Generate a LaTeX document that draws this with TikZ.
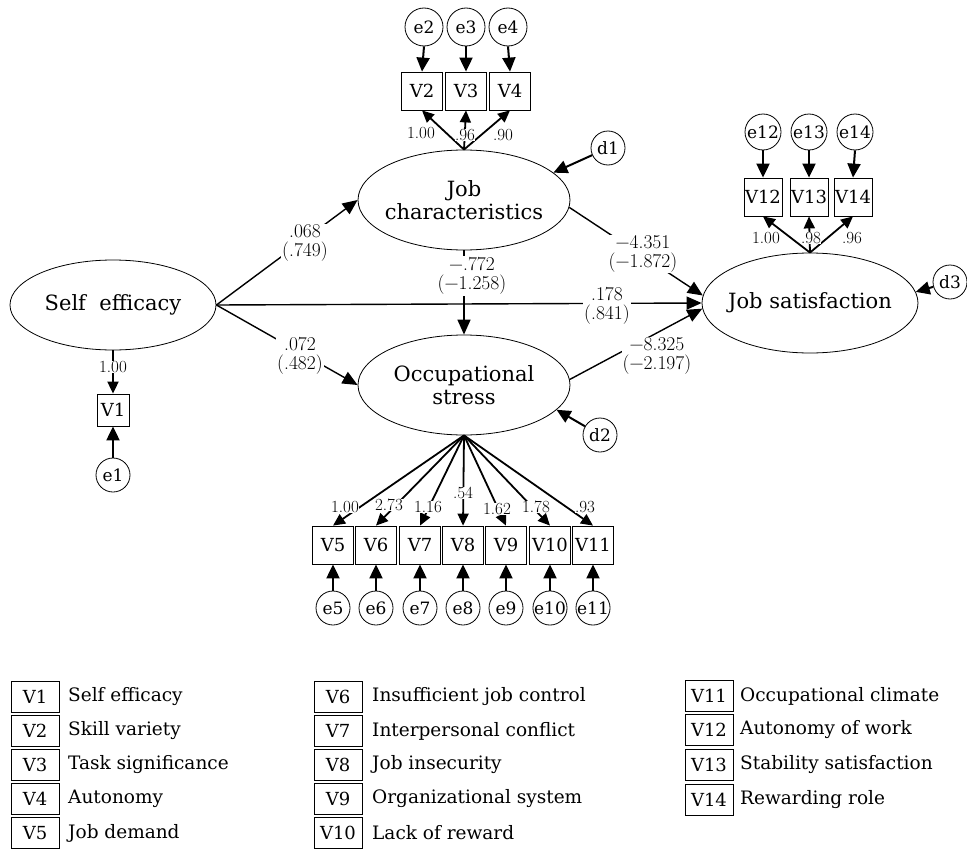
\documentclass[tikz,border=0pt]{standalone}
\usepackage{fontspec}
\newfontfamily\dvs{DejaVu Serif}
\usetikzlibrary{shapes.geometric,arrows.meta}
\begin{document}
\begin{tikzpicture}[x=1pt,y=-1pt,
  lat/.style={ellipse,draw,line width=0.8pt,minimum width=212pt,minimum height=100pt,inner sep=0pt},
  lattxt/.style={align=center,inner sep=0pt,font=\dvs\fontsize{21}{23}\selectfont},
  obs/.style={rectangle,draw,line width=0.8pt,minimum width=41pt,minimum height=38pt,inner sep=0pt,font=\dvs\fontsize{18}{20}\selectfont},
  err/.style={circle,draw,line width=0.8pt,minimum size=34pt,inner sep=0pt,font=\dvs\fontsize{17}{18}\selectfont},
  strarrow/.style={line width=1.4pt,-{Triangle[length=15pt,width=13pt]}},
  loadarrow/.style={line width=1.8pt,-{Triangle[length=12pt,width=11pt]}},
  errarrow/.style={line width=2pt,-{Triangle[length=14pt,width=13pt]}},
  coef/.style={fill=white,inner sep=1pt,align=center,font=\fontsize{19.5}{19}\selectfont},
  ld/.style={fill=white,inner sep=0.5pt,font=\fontsize{17}{17}\selectfont},
  legbox/.style={rectangle,draw,line width=0.8pt,minimum width=48pt,minimum height=31pt,inner sep=0pt,font=\dvs\fontsize{18}{20}\selectfont},
  legtxt/.style={anchor=west,inner sep=0pt,font=\dvs\fontsize{18.5}{20}\selectfont}]
\useasboundingbox (0,0) rectangle (967,862);

% latent variables
\node[lat,minimum width=206pt,minimum height=90pt,label={[lattxt]center:Self\ \ efficacy}] (se) at (113,305) {};
\node[lat,label={[lattxt]center:Job\\characteristics}] (jc) at (464,200) {};
\node[lat,label={[lattxt]center:Occupational\\stress}] (os) at (464,385) {};
\node[lat,minimum width=216pt,label={[lattxt]center:Job satisfaction}] (js) at (810,303) {};

% disturbances
\node[err] (d1) at (608,148) {d1};
\node[err] (d2) at (600,435) {d2};
\node[err] (d3) at (950,282) {d3};

% V1
\node[obs,minimum width=32pt,minimum height=32pt] (v1) at (113,410) {V1};
\node[err] (e1) at (113,475) {e1};

% top indicators
\node[obs] (v2) at (422,91) {V2};
\node[obs] (v3) at (466,91) {V3};
\node[obs] (v4) at (510,91) {V4};
\node[err,minimum size=38pt] (e2) at (424,27) {e2};
\node[err,minimum size=38pt] (e3) at (466,27) {e3};
\node[err,minimum size=38pt] (e4) at (508,27) {e4};

% right indicators
\node[obs,minimum width=38pt] (v12) at (763,197) {V12};
\node[obs,minimum width=38pt] (v13) at (809,197) {V13};
\node[obs,minimum width=38pt] (v14) at (853,197) {V14};
\node[err,minimum size=36pt] (e12) at (763,132) {e12};
\node[err,minimum size=36pt] (e13) at (809,132) {e13};
\node[err,minimum size=36pt] (e14) at (855,132) {e14};

% bottom indicators
\foreach \n/\x in {5/333,6/376,7/420,8/463,9/506,10/550,11/593}{
  \node[obs] (v\n) at (\x,545) {V\n};
  \node[err] (e\n) at (\x,608) {e\n};
}

% structural paths
\draw[strarrow] (se.east) -- (jc.west);
\draw[strarrow] (se.east) -- (os.west);
\draw[strarrow] (se.east) -- (js.west);
\draw[strarrow] (jc.south) -- (os.north);
\draw[strarrow] (jc.-4) -- (js.176);
\draw[strarrow] (os.3) -- (js.183);

\node[coef] (c1) at (305,243) {.068\\(.749)};
\node[coef] (c2) at (300,356) {.072\\(.482)};
\node[coef] (c3) at (472,276) {−.772\\(−1.258)};
\node[coef] (c4) at (607,306) {.178\\(.841)};
\node[coef] (c5) at (643,254) {−4.351\\(−1.872)};
\node[coef] (c6) at (657,356) {−8.325\\(−2.197)};

% disturbance arrows
\draw[errarrow] (d1) -- (jc.17);
\draw[errarrow] (d2) -- (os.-15);
\draw[errarrow] (d3) -- (js.6);

% V1
\draw[loadarrow] (se.south) -- (v1.north);
\node[ld] (l1) at (113,367) {1.00};
\draw[errarrow] (e1.north) -- (v1.south);

% top loadings
\foreach \v in {2,3,4}{ \draw[errarrow] (e\v.south) -- (v\v.north); }
\draw[loadarrow] (jc.north) -- (v2.south);
\draw[loadarrow] (jc.north) -- (v3.south);
\draw[loadarrow] (jc.north) -- (v4.south);
\node[ld] (l2) at (421,133) {1.00};
\node[ld] (l3) at (465,135) {.96};
\node[ld] (l4) at (503,135) {.90};

% right loadings
\foreach \v in {12,13,14}{ \draw[errarrow] (e\v.south) -- (v\v.north); }
\draw[loadarrow] (js.north) -- (v12.south);
\draw[loadarrow] (js.north) -- (v13.south);
\draw[loadarrow] (js.north) -- (v14.south);
\node[ld] (l12) at (766,238) {1.00};
\node[ld] (l13) at (811,238) {.98};
\node[ld] (l14) at (852,238) {.96};

% bottom loadings
\foreach \v in {5,6,7,8,9,10,11}{
  \draw[loadarrow] (os.south) -- (v\v.north);
  \draw[errarrow] (e\v.north) -- (v\v.south);
}
\node[ld] (l5) at (345,507) {1.00};
\node[ld] (l6) at (389,505) {2.73};
\node[ld] (l7) at (428,507) {1.16};
\node[ld] (l8) at (463,493) {.54};
\node[ld] (l9) at (497,509) {1.62};
\node[ld] (l10) at (536,507) {1.78};
\node[ld] (l11) at (585,507) {.93};

% legend
\foreach \n/\y/\t in {1/697/Self efficacy,2/731/Skill variety,3/765/Task significance,4/799/Autonomy,5/833/Job demand}{
  \node[legbox] (lb\n) at (35,\y) {V\n};
  \node[legtxt] (lt\n) at (68,\y) {\t};
}
\foreach \n/\y/\t in {6/697/Insufficient job control,7/731/Interpersonal conflict,8/765/Job insecurity,9/799/Organizational system,10/833/Lack of reward}{
  \node[legbox] (lb\n) at (338,\y) {V\n};
  \node[legtxt] (lt\n) at (372,\y) {\t};
}
\foreach \n/\y/\t in {11/696/Occupational climate,12/730/Autonomy of work,13/765/Stability satisfaction,14/800/Rewarding role}{
  \node[legbox] (lb\n) at (709,\y) {V\n};
  \node[legtxt] (lt\n) at (740,\y) {\t};
}
\end{tikzpicture}
\end{document}
